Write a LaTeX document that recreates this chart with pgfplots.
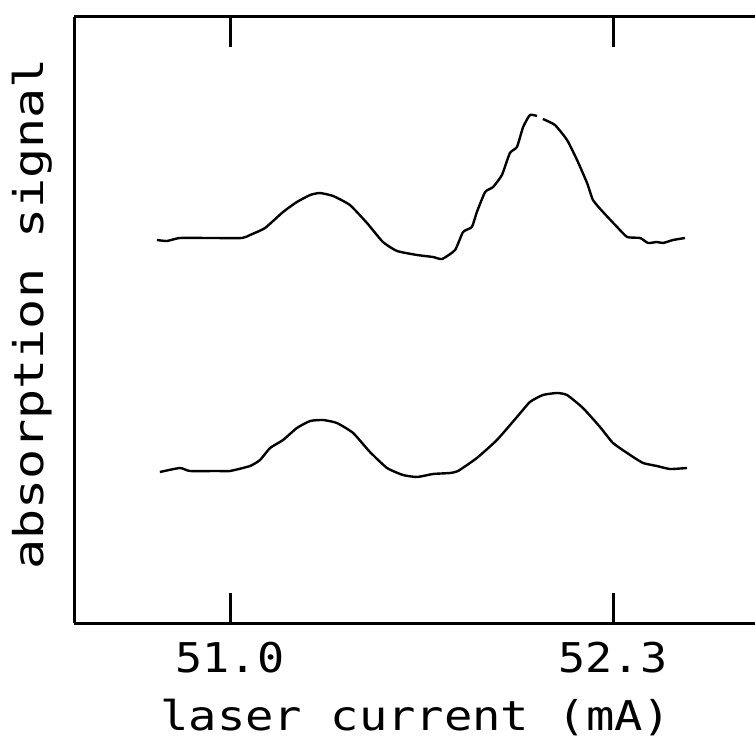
\documentclass[border=0pt]{standalone}
\usepackage{fontspec}
\usepackage{pgfplots}
\pgfplotsset{compat=1.18}
\newfontfamily\plotfont[FakeStretch=1.1]{DejaVu Sans Mono}
\newfontfamily\xlabfont[FakeStretch=1.15]{DejaVu Sans Mono}
\newfontfamily\ylabfont[FakeStretch=1.22]{DejaVu Sans Mono}
\newcommand\pf{\plotfont\fontsize{20.5pt}{24pt}\selectfont}
\newcommand\xf{\xlabfont\fontsize{20.5pt}{24pt}\selectfont}
\newcommand\yf{\ylabfont\fontsize{20.5pt}{24pt}\selectfont}

\begin{document}
\begin{tikzpicture}
    \begin{axis}[
        scale only axis, width=340.5pt, height=303pt,
        xmin=50.4705, xmax=52.782, ymin=0, ymax=606,
        axis x line=box, axis y line=left,
        axis line style={line width=1.5pt, -},
        xtick={51.0,52.3}, xticklabels={51.0,52.3}, ytick=\empty,
        tick align=inside, major tick length=15pt,
        tick style={line width=1.5pt, black},
        xticklabel style={font=\pf, anchor=base, yshift=-24.5pt},
        xlabel={laser current (mA)}, ylabel={absorption signal},
        every axis x label/.style={at={(axis description cs:0.502,0)},
            anchor=base, yshift=-53.5pt, font=\xf},
        every axis y label/.style={at={(axis description cs:-0.045,0.51)},
            rotate=90, anchor=base, font=\yf},
        unbounded coords=jump]
        % upper trace
        \addplot[black, line width=1.2pt, line join=round, smooth, tension=0.3] coordinates {
            (50.752,383) (50.786,382) (50.830,385) (50.932,385) (51.041,385)
            (51.068,388) (51.119,395) (51.180,411) (51.227,421) (51.272,428)
            (51.305,430) (51.350,427) (51.407,418) (51.465,400) (51.519,381)
            (51.567,372) (51.635,368) (51.689,366) (51.720,364) (51.764,373)
            (51.791,391) (51.821,396) (51.838,411) (51.866,431) (51.893,436)
            (51.923,448) (51.950,470) (51.974,476) (51.995,496) (52.018,508)
            (52.042,507) (52.050,nan) (52.062,504) (52.103,498) (52.144,483)
            (52.178,463) (52.212,440) (52.232,423) (52.266,411) (52.314,396)
            (52.348,386) (52.392,385) (52.419,380) (52.449,381) (52.470,380)
            (52.504,383) (52.544,385)};
        % lower trace
        \addplot[black, line width=1.2pt, line join=round, smooth, tension=0.3] coordinates {
            (50.762,151) (50.830,155) (50.864,152) (50.956,152) (51.000,152)
            (51.068,157) (51.102,163) (51.136,175) (51.180,183) (51.227,195)
            (51.272,202) (51.316,203) (51.363,200) (51.418,190) (51.475,171)
            (51.533,155) (51.587,148) (51.635,146) (51.689,149) (51.747,150)
            (51.774,152) (51.838,165) (51.906,183) (51.974,206) (52.018,221)
            (52.062,228) (52.110,230) (52.144,228) (52.198,215) (52.256,196)
            (52.300,180) (52.358,168) (52.402,160) (52.449,157) (52.494,154)
            (52.551,155)};
    \end{axis}
    \pgfresetboundingbox
    \path[use as bounding box] ([xshift=-37pt,yshift=-58pt]current axis.south west)
        rectangle ([yshift=8.5pt]current axis.north east);
\end{tikzpicture}
\end{document}
